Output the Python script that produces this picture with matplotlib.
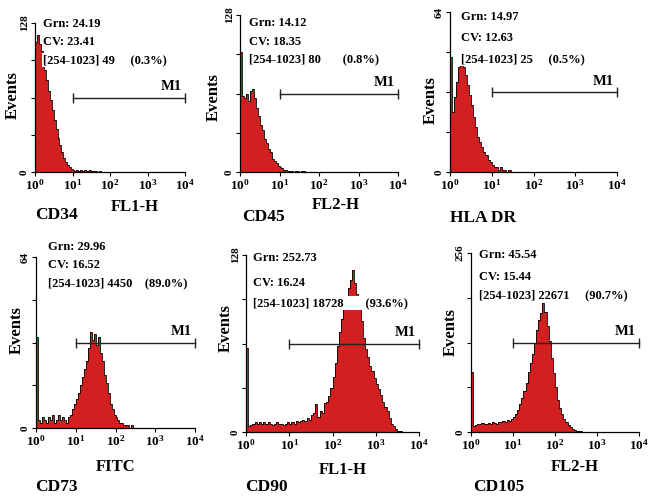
import numpy as np
import matplotlib
matplotlib.use("Agg")
import matplotlib.pyplot as plt

plt.rcParams['font.family'] = ['Liberation Serif', 'DejaVu Serif']
plt.rcParams['font.weight'] = 'bold'
plt.rcParams['mathtext.fontset'] = 'custom'
plt.rcParams['mathtext.rm'] = 'Liberation Serif:bold'
plt.rcParams['mathtext.bf'] = 'Liberation Serif:bold'
plt.rcParams['mathtext.it'] = 'Liberation Serif:bold'

# histogram counts, one value per 0.05-decade bin starting at 10^0
BIN = 0.05
cd34 = [112, 118, 110, 104, 96, 88, 79, 70, 62, 53, 45, 37, 29, 23, 17, 12, 9, 6, 4, 3,
        2, 1, 2, 1, 2, 1, 2, 1, 1, 2, 1, 1, 1, 0, 1]
cd45 = [98, 62, 60, 64, 58, 66, 68, 60, 52, 46, 38, 34, 27, 24, 19, 16, 11, 9, 7, 5,
        4, 3, 2, 2, 1, 1, 1, 0, 1, 1, 0, 1, 1]
hladr = [46, 24, 30, 36, 42, 45, 42, 39, 35, 31, 27, 22, 18, 14, 12, 10, 8, 7, 5, 4,
         3, 2, 2, 1, 2, 1, 1, 0, 1]
cd73 = [34, 3, 2, 4, 3, 2, 4, 3, 5, 2, 3, 5, 3, 4, 3, 2, 4, 5, 7, 9,
        11, 13, 16, 19, 22, 25, 30, 36, 33, 35, 31, 34, 28, 25, 20, 17, 13, 9, 7, 5,
        4, 3, 2, 2, 1, 1, 1, 0, 1]
cd90 = [61, 4, 5, 6, 7, 6, 7, 6, 7, 6, 7, 6, 5, 6, 7, 6, 6, 5, 6, 7,
        6, 7, 6, 8, 7, 8, 9, 8, 10, 9, 12, 14, 20, 11, 15, 14, 21, 22, 26, 32,
        40, 50, 62, 72, 82, 90, 98, 104, 110, 117, 108, 100, 90, 80, 68, 60, 54, 48, 44, 39,
        35, 31, 27, 22, 18, 15, 10, 6, 4, 2, 1, 1]
cd105 = [86, 8, 10, 12, 11, 13, 12, 11, 13, 12, 14, 13, 12, 15, 14, 16, 15, 17, 16, 19,
         22, 26, 32, 40, 48, 58, 70, 86, 98, 112, 128, 146, 160, 170, 184, 172, 152, 130, 106, 84,
         64, 46, 34, 26, 19, 14, 10, 7, 4, 3, 2, 1, 1]

histograms = [cd34, cd45, hladr, cd73, cd90, cd105]
markers = ['CD34', 'CD45', 'HLA DR', 'CD73', 'CD90', 'CD105']
channels = ['FL1-H', 'FL2-H', '', 'FITC', 'FL1-H', 'FL2-H']
ymax = [128, 128, 64, 64, 128, 256]
m1_level = [64, 64, 32, 32, 64, 128]
grn = ['24.19', '14.12', '14.97', '29.96', '252.73', '45.54']
cv = ['23.41', '18.35', '12.63', '16.52', '16.24', '15.44']
gated = ['49', '80', '25', '4450', '18728', '22671']
pct = ['0.3', '0.8', '0.5', '89.0', '93.6', '90.7']

W, H = 658, 497
fig = plt.figure(figsize=(W / 100, H / 100), dpi=100)


def fx(x):
    return x / W


def fy(y):
    return 1 - y / H


# axes boxes in pixels: left, right, top, bottom
boxes = [(35, 185, 23, 172), (240, 398, 15, 172), (450, 617, 12, 172),
         (36, 195, 257, 428), (246, 419, 255, 432), (471, 639, 253, 432)]
# stats text: left x, line y's, spaces before percentage
stats_pos = [(43, (24, 42, 60), 5), (249, (23, 42, 59), 7), (461, (17, 38, 59), 5),
             (48, (247, 265, 283), 4), (253, (258, 283, 303), 7), (479, (255, 277, 295), 5)]
ylab_pos = [(13, 95), (214, 97), (431, 100), (17, 330), (226, 328), (451, 332)]
chan_pos = [(135, 207), (336, 205), (0, 0), (116, 467), (343, 470), (575, 467)]
mark_pos = [(35, 215), (242, 217), (450, 218), (35, 487), (245, 487), (473, 487)]

red = '#d21f1f'

for i in range(6):
    l, r, t, b = boxes[i]
    ax = fig.add_axes([fx(l), fy(b), (r - l) / W, (b - t) / H])
    counts = np.array(histograms[i], dtype=float)
    edges = 10 ** (np.arange(len(counts) + 1) * BIN)
    ax.stairs(counts, edges, fill=True, color=red, zorder=2)
    ax.stairs(counts, edges, color='black', lw=0.6, zorder=3)

    ax.set_xscale('log')
    ax.set_xlim(1, 1e4)
    ax.set_ylim(0, ymax[i])
    ax.minorticks_off()
    ax.set_xticks([1, 10, 100, 1000, 10000])
    ax.set_xticklabels([r'$10^{%d}$' % k for k in range(5)], fontsize=9.5)
    ax.set_yticks(np.linspace(0, ymax[i], 5))
    ax.set_yticklabels(['0', '', '', '', str(ymax[i])], rotation=90, va='center', fontsize=8)
    ax.tick_params(axis='both', direction='out', length=3, width=0.8, pad=1.5)
    for s in ['top', 'right']:
        ax.spines[s].set_visible(False)
    for s in ['left', 'bottom']:
        ax.spines[s].set_linewidth(0.9)
    ax.patch.set_alpha(0)

    # M1 marker bar
    ax.plot([10, 1e4], [m1_level[i], m1_level[i]], color='#222222', lw=1.0,
            marker='|', ms=7, mew=1.0, zorder=4, clip_on=False)
    ax.annotate('M1', xy=(1e4, m1_level[i]), xytext=(-2, 3), textcoords='offset points',
                ha='right', va='bottom', fontsize=10.5, fontweight='bold')

    sx, ys, gap = stats_pos[i]
    lines = ['Grn: ' + grn[i], 'CV: ' + cv[i],
             '[254-1023] ' + gated[i] + ' ' * gap + '(' + pct[i] + '%)']
    for txt, yy in zip(lines, ys):
        fig.text(fx(sx), fy(yy), txt, ha='left', va='center', fontsize=9, fontweight='bold',
                 zorder=5, bbox=dict(facecolor='white', edgecolor='none', pad=0.6))

    fig.text(fx(ylab_pos[i][0]), fy(ylab_pos[i][1]), 'Events', rotation=90,
             ha='center', va='center', fontsize=12, fontweight='bold')
    if channels[i]:
        fig.text(fx(chan_pos[i][0]), fy(chan_pos[i][1]), channels[i],
                 ha='center', va='center', fontsize=12, fontweight='bold')
    fig.text(fx(mark_pos[i][0]), fy(mark_pos[i][1]), markers[i],
             ha='left', va='center', fontsize=12.5, fontweight='bold')

fig.savefig('out.png', dpi=100)
